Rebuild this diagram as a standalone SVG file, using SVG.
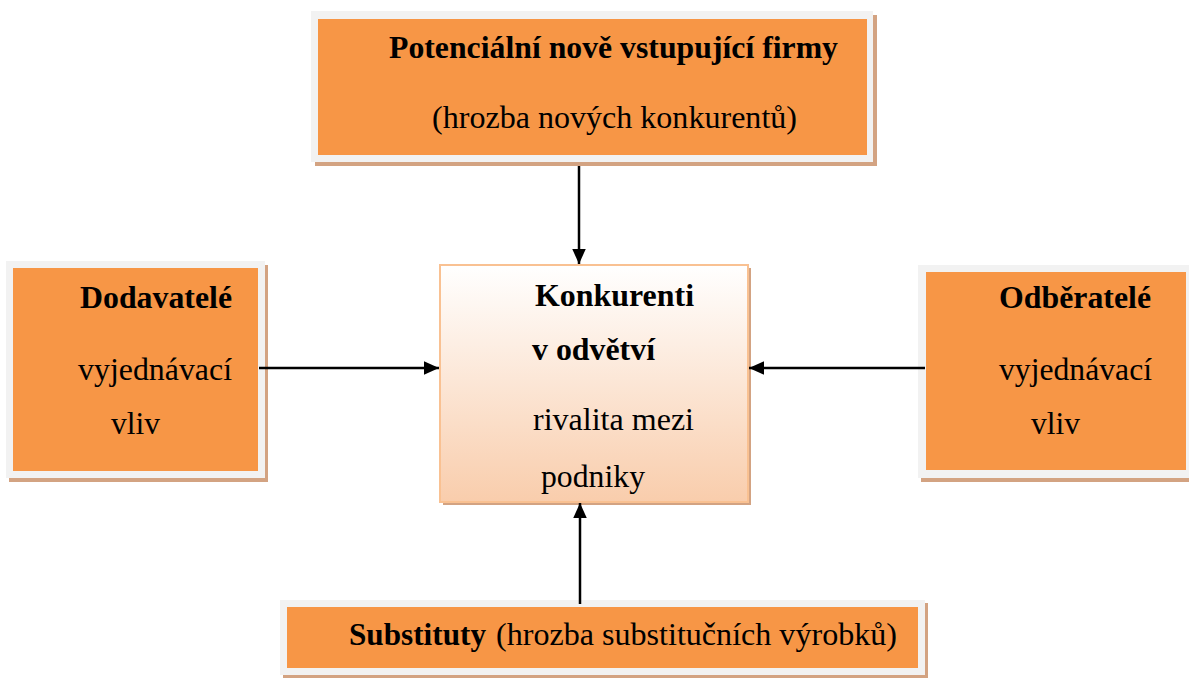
<svg xmlns="http://www.w3.org/2000/svg" width="1189" height="678" viewBox="0 0 1189 678">
  <style>
    .frame { fill: #f2f2f2; }
    .shadow { fill: #d3a382; }
    .box { fill: #f79646; }
    .t { font-family: "Liberation Serif", "Times New Roman", serif; font-size: 32px; fill: #000; }
    .b { font-weight: bold; }
    .conn { stroke: #000; stroke-width: 2.5; fill: none; marker-end: url(#arrow); }
  </style>
  <defs>
    <marker id="arrow" viewBox="0 0 10 10" refX="10" refY="5" markerWidth="15" markerHeight="15" markerUnits="userSpaceOnUse" orient="auto">
      <path d="M0,0.5 L10,5 L0,9.5 z" fill="#000"/>
    </marker>
    <linearGradient id="centerFill" x1="0" y1="0" x2="0" y2="1">
      <stop offset="0" stop-color="#ffffff"/>
      <stop offset="1" stop-color="#f9cdac"/>
    </linearGradient>
  </defs>

  <rect width="1189" height="678" fill="#fff"/>

  <!-- top: new entrants -->
  <g id="entrants">
    <rect class="shadow" x="315" y="15" width="562" height="151"/>
    <rect class="frame" x="311" y="11" width="562" height="151"/>
    <rect class="box" x="318" y="19" width="549" height="136"/>
    <text class="t b" x="389" y="58" textLength="449" lengthAdjust="spacingAndGlyphs">Potenciální nově vstupující firmy</text>
    <text class="t" x="432" y="128" textLength="365" lengthAdjust="spacingAndGlyphs">(hrozba nových konkurentů)</text>
  </g>

  <!-- left: suppliers -->
  <g id="suppliers">
    <rect class="shadow" x="9" y="265" width="259" height="217"/>
    <rect class="frame" x="6" y="261" width="259" height="217"/>
    <rect class="box" x="13" y="268" width="245" height="203"/>
    <text class="t b" x="80" y="308" textLength="152" lengthAdjust="spacingAndGlyphs">Dodavatelé</text>
    <text class="t" x="78" y="380" textLength="154" lengthAdjust="spacingAndGlyphs">vyjednávací</text>
    <text class="t" x="111" y="434" textLength="49" lengthAdjust="spacingAndGlyphs">vliv</text>
  </g>

  <!-- centre: industry competitors -->
  <g id="competitors">
    <rect class="shadow" x="443" y="268" width="308" height="237"/>
    <rect x="440" y="265" width="308" height="237" fill="url(#centerFill)" stroke="#f9c192" stroke-width="2"/>
    <text class="t b" x="535" y="306" textLength="159" lengthAdjust="spacingAndGlyphs">Konkurenti</text>
    <text class="t b" x="532" y="360" textLength="123" lengthAdjust="spacingAndGlyphs">v odvětví</text>
    <text class="t" x="533" y="430" textLength="161" lengthAdjust="spacingAndGlyphs">rivalita mezi</text>
    <text class="t" x="541" y="487" textLength="104" lengthAdjust="spacingAndGlyphs">podniky</text>
  </g>

  <!-- right: buyers -->
  <g id="buyers">
    <rect class="shadow" x="921" y="269" width="271" height="213"/>
    <rect class="frame" x="918" y="265" width="271" height="213"/>
    <rect class="box" x="926" y="272" width="260" height="198"/>
    <text class="t b" x="999" y="308" textLength="152" lengthAdjust="spacingAndGlyphs">Odběratelé</text>
    <text class="t" x="999" y="380" textLength="153" lengthAdjust="spacingAndGlyphs">vyjednávací</text>
    <text class="t" x="1031" y="434" textLength="49" lengthAdjust="spacingAndGlyphs">vliv</text>
  </g>

  <!-- bottom: substitutes -->
  <g id="substitutes">
    <rect class="shadow" x="283" y="603" width="645" height="75"/>
    <rect class="frame" x="280" y="600" width="645" height="75"/>
    <rect class="box" x="287" y="607" width="631" height="61"/>
    <text class="t b" x="349" y="645" textLength="137" lengthAdjust="spacingAndGlyphs">Substituty</text>
    <text class="t" x="496" y="645" textLength="401" lengthAdjust="spacingAndGlyphs">(hrozba substitučních výrobků)</text>
  </g>

  <!-- connectors -->
  <g id="connectors">
    <line class="conn" x1="579" y1="166" x2="579" y2="264"/>
    <line class="conn" x1="259" y1="368" x2="439" y2="368"/>
    <line class="conn" x1="925" y1="368" x2="749" y2="368"/>
    <line class="conn" x1="580" y1="604" x2="580" y2="503"/>
  </g>
</svg>
